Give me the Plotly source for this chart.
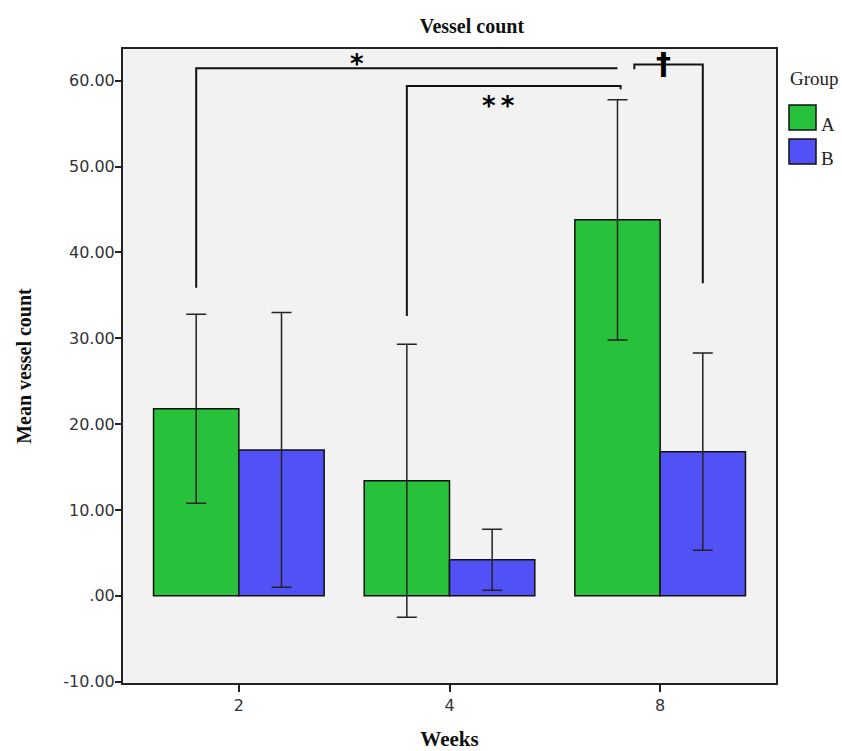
import plotly.graph_objects as go

# ---- data ----
weeks = ["2", "4", "8"]
group_names = ["A", "B"]
mean_a = [21.8, 13.4, 43.8]
err_a = [11.0, 15.9, 14.0]
mean_b = [17.0, 4.2, 16.8]
err_b = [16.0, 3.55, 11.5]

y_tick_vals = [-10, 0, 10, 20, 30, 40, 50, 60]
y_tick_text = ["-10.00", ".00", "10.00", "20.00", "30.00", "40.00", "50.00", "60.00"]

# significance brackets
sig_labels = ["*", "*\u2009*", "\u2020"]
sig_top = [61.45, 59.4, 61.9]
sig_left_bottom = [35.9, 32.6, 61.35]
sig_right_bottom = [61.45, 59.0, 36.4]

GREEN = "#27c13c"
BLUE = "#5151f6"
COLORS = [GREEN, BLUE]
BARGAP = 0.19

fig = go.Figure()
fig.add_trace(go.Bar(
    x=weeks, y=mean_a, name=group_names[0],
    marker=dict(color=GREEN, line=dict(color="#111111", width=1.5)),
    error_y=dict(type="data", array=err_a, visible=True, color="#222222", thickness=1.5, width=10),
))
fig.add_trace(go.Bar(
    x=weeks, y=mean_b, name=group_names[1],
    marker=dict(color=BLUE, line=dict(color="#111111", width=1.5)),
    error_y=dict(type="data", array=err_b, visible=True, color="#222222", thickness=1.5, width=10),
))

off = (1 - BARGAP) / 4.0
green_pos = [i - off for i in range(len(weeks))]
blue_pos = [i + off for i in range(len(weeks))]

line_style = dict(color="#111111", width=2)
xs = [(green_pos[0], green_pos[2]), (green_pos[1], green_pos[2] + 0.015), (green_pos[2] + 0.08, blue_pos[2])]
for (x0, x1), top, lb, rb in zip(xs, sig_top, sig_left_bottom, sig_right_bottom):
    fig.add_shape(type="path", xref="x", yref="y",
                  path=f"M {x0} {lb} L {x0} {top} L {x1} {top} L {x1} {rb}",
                  line=line_style)

label_x = [0.56, 1.233, green_pos[2] + 0.217]
label_y = [62.0, 57.1, 62.0]
label_size = [26, 26, 30]
for lab, lx, ly, ls in zip(sig_labels, label_x, label_y, label_size):
    fig.add_annotation(x=lx, y=ly, xref="x", yref="y", text=f"<b>{lab}</b>", showarrow=False,
                       font=dict(family="DejaVu Sans", size=ls, color="#000000"))

# ---- legend (drawn in paper coordinates, outside the plot area) ----
PL, PR, PT, PB = 123, 776, 49, 683
def px_x(p):
    return (p - PL) / (PR - PL)
def px_y(p):
    return (PB - p) / (PB - PT)

fig.add_annotation(x=px_x(788), y=px_y(78), xref="paper", yref="paper", xanchor="left", yanchor="middle",
                   text="Group", showarrow=False,
                   font=dict(family="Liberation Serif", size=19, color="#222222"))
sw_top = [105, 139]
for name, col, top in zip(group_names, COLORS, sw_top):
    fig.add_shape(type="rect", xref="paper", yref="paper",
                  x0=px_x(789), x1=px_x(816), y0=px_y(top + 25), y1=px_y(top),
                  fillcolor=col, line=dict(color="#111111", width=1.5))
    fig.add_annotation(x=px_x(819), y=px_y(top + 19), xref="paper", yref="paper", xanchor="left", yanchor="middle",
                       text=name, showarrow=False,
                       font=dict(family="Liberation Serif", size=19, color="#222222"))

fig.update_layout(
    width=842, height=751,
    margin=dict(l=PL, r=842 - PR, t=PT, b=751 - PB, autoexpand=False),
    paper_bgcolor="white",
    plot_bgcolor="#f2f2f2",
    barmode="group", bargap=BARGAP, bargroupgap=0,
    title=dict(text="<b>Vessel count</b>", x=0.5605, xanchor="center", y=0.966, yanchor="middle",
               font=dict(family="Liberation Serif", size=20, color="#111111")),
    showlegend=False,
)
fig.update_xaxes(
    range=[-0.55, 2.55], showline=True, linecolor="#222222", linewidth=2, mirror=True,
    ticks="outside", ticklen=7, tickwidth=2, tickcolor="#222222",
    showgrid=False, zeroline=False,
    tickfont=dict(family="DejaVu Sans", size=16, color="#333333"),
    title=dict(text="<b>Weeks</b>", font=dict(family="Liberation Serif", size=21, color="#111111"), standoff=27),
)
fig.update_yaxes(
    range=[-10.15, 63.7], showline=True, linecolor="#222222", linewidth=2, mirror=True,
    ticks="outside", ticklen=6, tickwidth=2, tickcolor="#222222",
    tickvals=y_tick_vals, ticktext=y_tick_text, ticklabelstandoff=-3,
    showgrid=False, zeroline=False,
    tickfont=dict(family="DejaVu Sans", size=16, color="#333333"),
    title=dict(text="<b>Mean vessel count</b>", font=dict(family="Liberation Serif", size=20, color="#111111"), standoff=26),
)

fig.write_html("out.html")
